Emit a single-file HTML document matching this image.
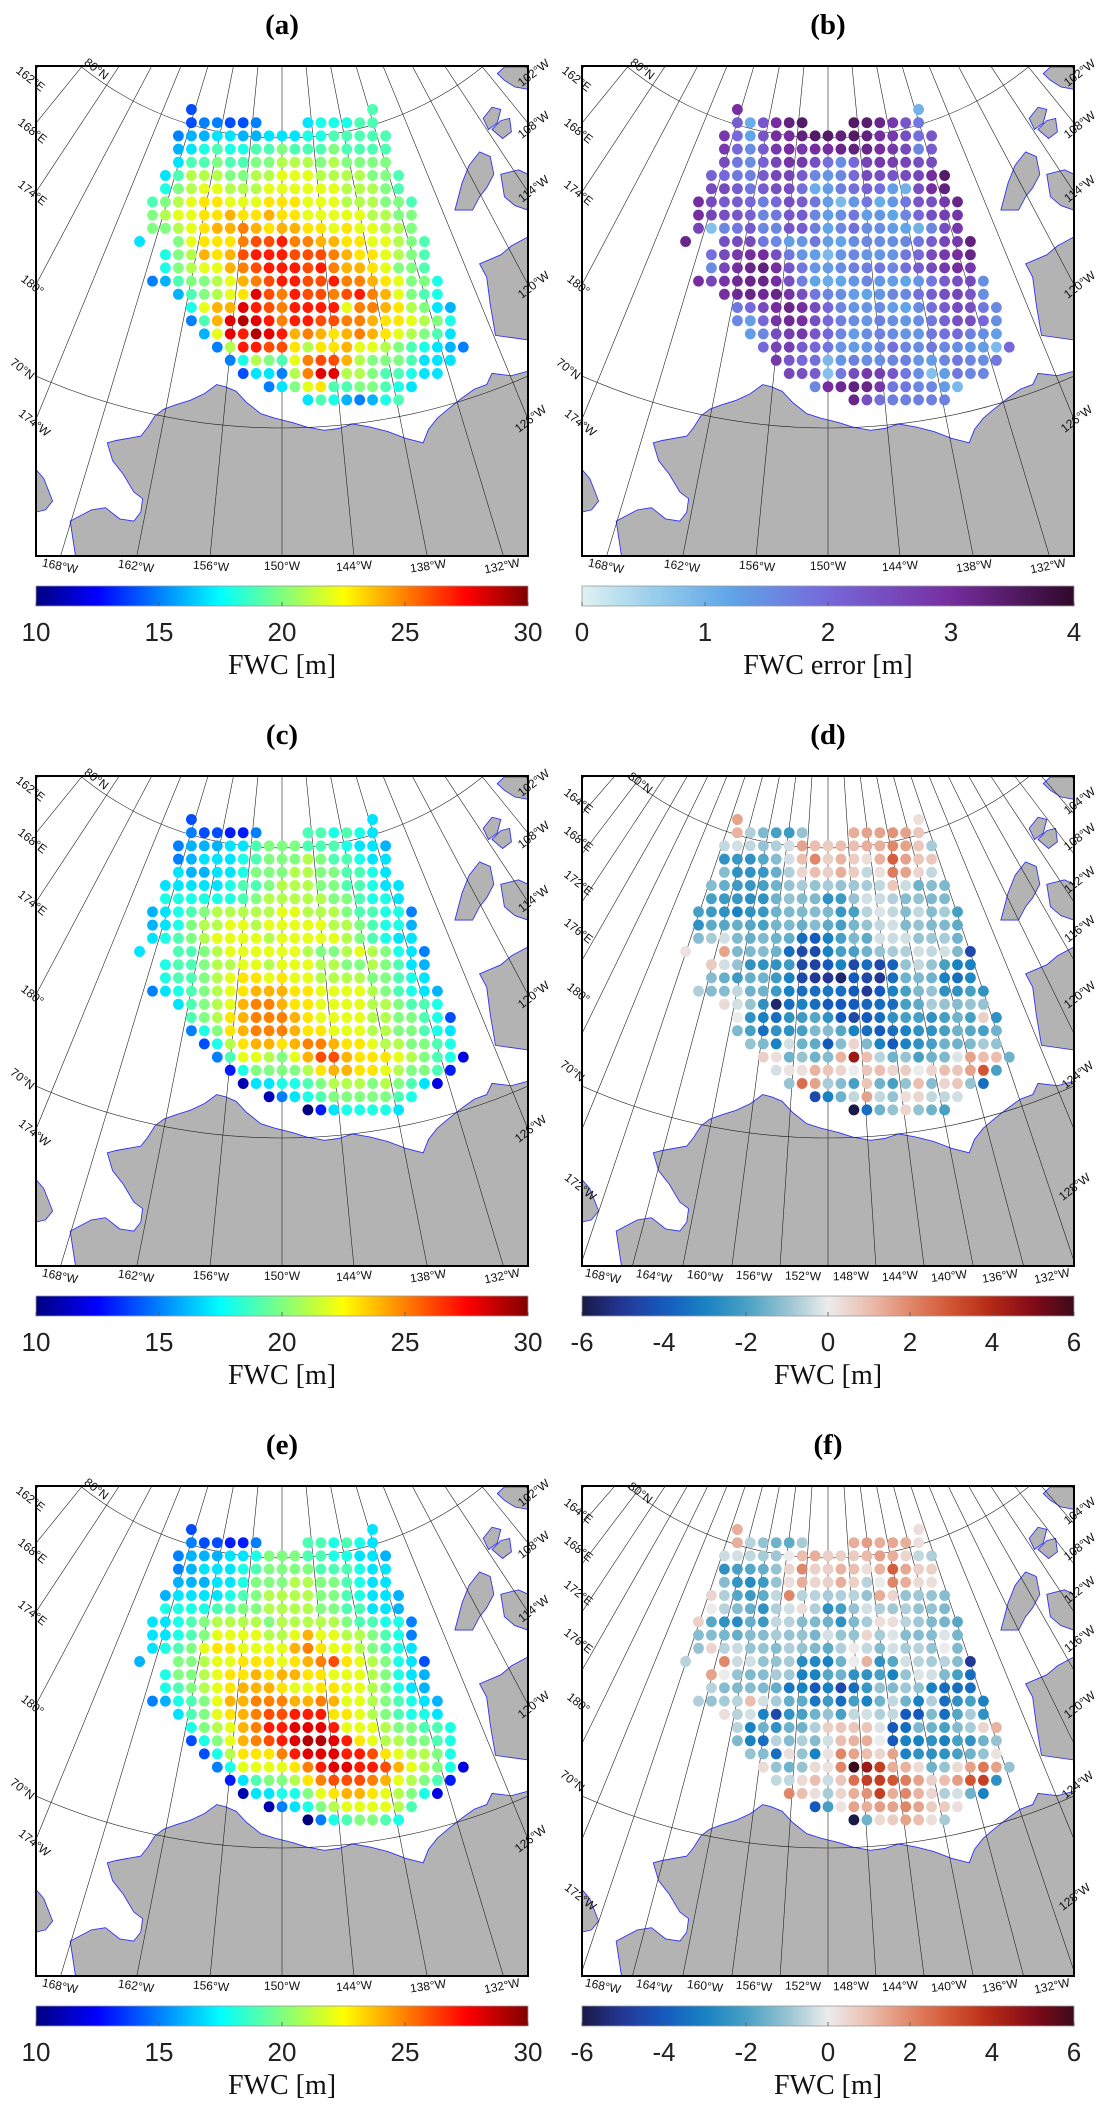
<!DOCTYPE html>
<html><head><meta charset="utf-8">
<style>
html,body{margin:0;padding:0;background:#fff;overflow:hidden;width:1099px;height:2109px;}
svg{display:block;overflow:hidden;}
.tk{font-family:"Liberation Sans",sans-serif;font-size:12px;fill:#111;}
.cb{font-family:"Liberation Sans",sans-serif;font-size:26px;fill:#222;}
.ttl{font-family:"Liberation Serif",serif;font-size:29px;font-weight:bold;fill:#000;}
.lab{font-family:"Liberation Serif",serif;font-size:28px;fill:#111;}
</style></head>
<body>
<svg id="fig" width="1099" height="2109" viewBox="0 0 1099 2109" xmlns="http://www.w3.org/2000/svg"></svg>
<script>
const N = null;
const colStart = [-7,-7,-8,-8,-8,-9,-9,-10,-10,-10,-11,-9,-9,-10,-8,-7,-7,-6,-5,-4,-3,-1,2];

const fwcA = [
[14,N,N,N,N,N,N,N,N,N,N,N,N,N,19],
[14,15,15,14,14,15,N,N,N,17,18,18,18,19,19],
[15,16,16,17,17,16,16,17,17,17,18,18,19,19,19,19,19],
[16,17,18,19,18,18,19,19,20,19,19,19,20,19,19,19,19],
[17,19,19,20,19,19,20,20,21,21,21,20,21,20,20,20,20],
[17,19,21,21,21,20,20,21,21,22,22,22,21,21,21,21,20,20,19],
[18,20,21,22,22,21,21,21,22,22,22,22,22,22,21,21,21,20,19],
[19,20,21,22,23,23,22,22,22,23,23,23,22,22,22,21,21,21,20,20,19],
[20,21,22,22,23,23,24,23,23,24,23,23,22,22,22,22,22,21,21,20,20],
[20,20,21,22,23,24,24,25,24,23,24,24,23,23,22,23,22,22,21,21,20],
[17,N,N,20,22,23,23,23,25,26,26,27,25,25,24,24,23,23,22,22,21,20,19],
[18,20,21,24,23,24,26,27,27,27,26,26,26,25,24,23,23,22,21,20,19],
[18,20,21,22,22,24,25,26,27,27,27,26,27,25,24,24,23,22,20,20,19],
[15,16,19,20,20,21,22,24,25,26,27,27,26,26,27,25,25,24,23,22,20,20,18],
[16,19,20,21,22,23,28,26,25,27,26,26,25,26,27,25,24,22,20,19,18],
[18,22,24,24,28,27,26,25,27,27,27,27,22,25,25,24,23,21,20,17,16],
[15,19,24,28,29,28,27,25,27,27,26,26,25,25,24,23,23,22,21,20,18],
[16,22,28,27,29,28,27,24,25,24,23,24,25,24,23,22,21,20,19,17],
[15,21,27,27,26,26,23,21,23,23,24,22,22,21,20,19,18,17,16,15],
[15,18,21,20,19,22,25,26,26,24,21,20,20,20,19,17,17,17],
[14,17,17,15,21,25,28,28,21,21,20,19,19,18,17,17],
[15,17,20,22,23,19,19,20,20,19,18,17],
[17,19,18,16,15,16,18,19]];

const errB = [
[3.0,N,N,N,N,N,N,N,N,N,N,N,N,N,1.0],
[2.2,1.1,2.3,3.0,3.3,3.5,N,N,N,3.5,3.4,3.2,2.8,2.3,1.8],
[2.8,2.0,1.2,2.3,3.0,3.0,3.3,3.5,3.5,3.3,3.5,3.3,3.0,2.8,2.4,1.9,2.3],
[2.8,2.0,1.5,2.2,2.8,3.0,2.8,3.0,3.0,3.2,3.3,3.2,3.0,2.8,2.5,1.6,2.2],
[2.5,1.8,1.5,2.1,2.6,2.9,2.8,2.4,1.9,1.5,2.0,2.6,2.8,2.7,2.6,2.4,2.5],
[2.1,2.0,1.8,1.7,2.2,2.6,2.6,2.2,1.6,1.4,1.6,2.0,2.5,2.4,2.3,2.5,2.6,3.0,3.5],
[2.5,2.5,2.2,1.8,2.2,2.4,2.4,1.9,1.1,1.3,1.7,1.9,2.1,1.9,1.3,1.0,2.4,3.0,3.3],
[3.0,2.5,2.2,2.2,2.0,1.7,2.0,2.4,2.2,1.8,1.3,0.9,1.4,1.8,1.1,1.4,1.8,2.3,2.4,2.8,3.2],
[3.0,2.6,2.4,2.3,2.1,1.6,1.8,2.3,2.2,1.6,1.3,1.5,1.8,1.3,1.4,1.2,1.6,2.0,2.4,2.7,2.9],
[2.6,0.8,1.6,1.8,2.2,1.6,1.6,2.3,2.2,1.7,1.2,1.6,1.9,1.5,1.5,1.3,1.2,1.0,1.6,2.4,2.8],
[3.2,N,N,2.4,2.5,2.5,1.8,1.6,1.3,1.4,1.8,1.3,1.2,1.5,1.6,1.5,1.5,1.6,1.8,2.2,2.6,2.8,3.3],
[1.9,2.5,2.8,3.0,3.0,2.4,1.8,1.4,1.3,0.9,1.4,1.6,1.4,1.4,1.4,1.8,2.0,2.5,2.8,3.0,3.2],
[1.5,2.6,3.0,3.2,3.3,3.0,2.3,1.8,1.4,1.3,1.5,1.7,1.7,1.8,1.6,1.9,2.2,2.5,2.8,3.0,2.8],
[3.0,2.6,2.9,3.1,3.2,3.2,3.0,2.4,1.7,1.2,1.1,1.2,1.4,1.6,1.4,1.3,1.2,1.4,1.8,2.2,2.4,2.5,1.5],
[3.0,3.1,3.2,3.1,3.2,2.9,2.4,1.8,1.6,1.5,1.3,1.2,1.4,1.6,1.6,1.9,2.2,2.4,2.6,2.3,1.5],
[1.8,2.0,2.5,3.0,3.2,3.0,2.5,2.0,1.6,1.4,1.4,1.5,1.3,1.2,1.5,1.9,2.2,2.5,2.4,1.8,1.6],
[1.6,1.3,2.0,2.9,3.1,3.0,2.4,2.0,1.7,1.5,1.4,1.7,1.5,1.4,1.5,1.8,2.1,2.4,2.4,2.0,1.5],
[1.3,1.6,2.5,2.7,2.8,2.3,2.0,1.6,1.3,1.5,1.7,1.5,1.4,1.4,1.8,1.9,2.0,1.7,1.5,1.3],
[2.0,2.6,2.7,2.2,2.0,1.8,1.4,1.3,1.4,1.6,1.9,1.6,1.5,1.8,1.6,1.5,1.4,1.3,0.9,2.0],
[2.8,2.3,2.0,1.9,0.9,1.4,1.7,1.5,1.5,1.6,1.7,1.4,1.3,1.6,1.8,1.6,1.5,1.8],
[2.6,2.4,2.2,0.8,1.8,2.5,2.8,2.7,2.3,1.8,1.5,0.8,1.3,1.8,1.6,1.6],
[1.6,3.0,3.1,3.3,3.2,2.8,1.8,1.8,1.6,1.6,1.3,0.9],
[3.2,2.4,1.9,1.7,1.7,1.7,1.7,1.7]];

const fwcC = [
[14,N,N,N,N,N,N,N,N,N,N,N,N,N,17],
[15,14,14,13,13,15,N,N,N,19,19,18,19,18,17],
[15,16,16,16,17,17,19,20,20,20,19,19,19,18,17,17,16],
[15,16,17,17,17,18,19,20,20,20,21,20,19,19,18,17,17],
[17,16,16,17,17,18,20,20,20,21,21,20,20,19,19,18,17],
[17,17,17,17,17,18,19,19,20,21,21,21,20,20,19,19,18,17,17],
[18,18,18,18,18,18,19,20,21,21,21,21,21,20,20,19,18,18,17],
[16,17,18,19,20,21,21,21,21,21,22,22,21,21,21,20,19,19,18,18,15],
[16,17,18,20,21,21,22,22,21,22,22,22,22,22,21,21,20,19,18,18,16],
[17,18,19,20,21,22,22,22,22,21,22,22,22,22,22,21,20,19,18,17,17],
[17,N,N,19,19,20,21,22,22,22,22,22,22,21,20,20,21,22,21,20,18,17,15],
[18,19,19,20,21,21,22,22,21,22,22,22,21,21,20,20,21,20,19,17,16],
[18,19,19,20,21,22,23,23,22,23,22,22,21,21,21,21,20,20,19,18,17],
[15,17,18,19,20,21,22,23,24,24,24,23,23,22,22,22,22,21,20,19,18,17,16],
[17,19,20,21,22,24,25,25,24,23,23,22,22,22,22,21,21,20,19,19,18],
[19,20,21,23,24,25,25,25,24,23,22,22,22,22,21,21,20,20,19,18,14],
[15,18,20,23,24,25,25,25,24,23,23,22,22,22,21,21,20,20,19,18,17],
[14,18,21,23,24,24,23,24,25,25,24,23,23,22,21,21,20,20,19,18],
[15,19,22,22,21,20,22,24,26,26,24,23,23,23,22,21,20,19,18,12],
[13,18,20,20,20,20,21,23,24,24,23,23,22,21,20,20,19,13],
[11,17,17,18,18,19,20,21,21,21,20,21,20,19,17,12],
[11,15,17,18,19,20,20,20,20,20,19,18],
[10,13,17,18,18,18,18,17]];

const diffD = [
[1.5,N,N,N,N,N,N,N,N,N,N,N,N,N,0.3],
[1.2,-0.7,-1.3,-2.0,-2.2,-1.0,N,N,N,1.3,1.5,1.5,1.8,1.5,0.8],
[-0.5,-0.3,-0.5,-1.0,-0.7,-0.3,1.5,1.0,0.7,1.0,1.0,1.3,1.3,2.0,1.5,0.8,-0.8],
[-2.5,-2.3,-2.5,-1.8,-1.2,-0.3,1.0,2.0,0.6,1.2,0.7,0.3,1.2,2.8,1.5,0.8,0.8],
[-1.2,-2.5,-2.5,-2.3,-1.6,-0.7,0.5,1.0,0.6,1.3,0.7,-0.5,0.3,2.2,1.5,0.5,-0.5],
[-1.2,-1.6,-2.2,-2.3,-2.0,-1.5,-1.0,-0.8,-1.0,-0.8,-1.0,-0.9,-0.8,-0.5,0.8,-0.4,-1.5,-1.2,-1.3],
[-2.0,-2.2,-2.3,-2.6,-2.5,-1.5,-1.0,-1.2,-1.3,-2.5,-2.2,-1.0,-0.3,-0.4,-0.7,-1.2,-1.0,-1.3,-1.3],
[-2.0,-2.2,-2.5,-3.0,-2.5,-2.3,-1.5,-1.3,-1.3,-1.2,-1.3,-2.3,-2.0,-0.6,-0.2,-0.5,-1.2,-0.5,-1.2,-0.8,-2.0],
[-2.5,-1.7,-1.8,-1.6,-1.8,-2.0,-1.4,-1.3,-1.6,-1.2,-1.7,-2.0,-1.4,-1.0,-0.5,-0.3,-1.3,-1.0,-1.3,-1.3,-1.7],
[-1.2,-0.8,-0.3,-1.3,-1.6,-1.3,-1.5,-1.6,-3.5,-4.0,-3.0,-2.0,-1.3,-1.7,-0.3,-0.4,-0.3,-1.0,-0.9,-0.8,-1.5],
[0.2,N,N,1.5,-1.3,-1.3,-1.2,-1.5,-3.5,-4.5,-4.5,-3.0,-2.0,-2.0,-1.5,-1.0,-0.8,-0.7,-0.3,-0.5,-0.3,-1.3,-4.5],
[0.7,-0.3,-1.0,-2.5,-2.5,-2.5,-2.2,-4.5,-4.7,-4.0,-3.0,-4.5,-3.5,-4.5,-3.8,-1.0,-0.5,-1.0,-2.0,-3.0,-3.0],
[-1.2,-1.6,-2.2,-1.6,-1.5,-2.2,-3.0,-4.5,-5.0,-5.0,-5.5,-4.0,-4.5,-5.0,-3.5,-1.5,-1.3,-1.5,-3.0,-3.5,-2.8],
[-0.7,-1.2,-1.2,-0.5,-1.5,-1.5,-2.2,-3.0,-3.5,-3.5,-3.3,-3.5,-4.0,-5.0,-4.0,-3.0,-2.0,-1.3,-1.0,-2.5,-2.5,-2.0,-2.5],
[0.4,-0.3,-1.0,-2.5,-5.5,-3.5,-3.0,-3.5,-4.0,-4.0,-4.0,-3.7,-3.5,-3.5,-2.0,-1.7,-0.8,-1.0,-1.2,-1.0,-1.0],
[0.0,-2.5,-3.0,-3.5,-2.5,-2.2,-1.8,-2.5,-4.0,-4.5,-4.0,-3.5,-2.5,-2.0,-2.0,-2.5,-2.0,-1.5,-2.0,0.6,-2.5],
[-1.3,-2.0,-3.5,-2.5,-2.5,-2.0,-1.3,-1.2,-1.8,-3.0,-3.5,-4.0,-3.5,-3.0,-2.5,-2.5,-2.0,-1.5,-1.8,-2.0,-1.5],
[-1.0,-1.3,-3.0,-0.3,-1.5,-1.7,-4.0,-1.2,0.5,-1.3,-3.0,-4.0,-3.0,-2.5,-2.0,-1.5,-1.5,-1.3,-0.8,-1.0],
[0.6,0.3,-1.5,-1.0,-1.5,-1.2,1.2,4.5,1.0,-0.6,-1.5,-1.0,-2.0,-1.5,-1.3,-0.2,1.5,1.0,1.0,-1.5],
[-0.3,0.2,0.3,1.2,0.8,0.5,0.0,0.8,1.0,0.5,0.7,0.0,0.5,1.0,0.8,1.5,3.0,-2.0],
[-1.0,2.5,1.5,-0.8,-1.2,-2.0,0.8,-1.5,-2.0,-1.0,1.0,-1.2,0.5,0.8,-1.0,-3.5],
[-4.5,-3.0,-1.5,-0.5,1.5,-0.5,-1.0,0.3,0.5,-0.5,-0.5,-0.3],
[-6.0,-3.5,-1.5,-1.0,0.5,-1.0,-1.5,-2.0]];

const fwcE = [
[14,N,N,N,N,N,N,N,N,N,N,N,N,N,17],
[15,14,14,13,13,15,N,N,N,19,19,18,19,18,17],
[15,16,16,16,17,17,18,20,20,20,19,19,18,18,17,17,16],
[15,16,17,17,17,18,19,20,20,20,20,19,19,19,18,17,17],
[16,16,16,17,17,18,20,20,20,21,21,20,20,19,18,17,17],
[16,17,17,17,17,18,19,20,21,21,21,21,20,20,19,18,17,17,16],
[18,18,18,18,19,19,20,20,21,21,21,21,20,20,19,19,17,17,16],
[17,17,18,19,20,21,21,21,21,20,21,21,21,21,21,20,19,19,18,18,15],
[17,17,18,19,20,22,22,22,22,21,21,22,24,22,22,21,21,20,19,18,15],
[17,18,19,20,22,23,23,22,22,22,22,24,25,23,22,22,21,20,19,18,17],
[16,N,N,20,20,21,22,22,23,23,23,22,23,24,25,26,23,22,21,20,18,17,14],
[18,20,20,21,22,23,23,24,23,24,24,23,23,22,22,22,21,20,18,17,16],
[18,19,20,21,22,23,24,24,24,23,22,22,23,23,22,22,21,20,18,17,16],
[15,16,18,19,20,22,24,24,25,25,25,24,24,25,24,22,22,21,20,19,18,17,16],
[17,19,20,22,23,24,25,26,26,27,27,27,23,23,22,21,20,19,18,18,17],
[18,20,21,22,24,25,27,27,28,28,28,27,22,22,22,21,20,20,19,19,18],
[14,18,20,22,24,25,26,27,28,29,29,28,27,23,22,21,21,20,20,19,18],
[14,18,21,23,23,23,25,27,28,28,28,27,27,26,23,22,21,21,20,18],
[15,18,22,22,22,22,23,25,27,28,28,27,27,26,24,22,21,20,18,12],
[13,17,19,20,20,21,23,25,26,26,26,25,24,22,21,20,19,13],
[11,17,17,18,18,20,22,23,24,24,23,22,21,20,18,12],
[11,15,17,18,20,21,22,22,22,22,21,19],
[10,15,18,19,20,20,19,18]];

const diffF = [
[1.3,N,N,N,N,N,N,N,N,N,N,N,N,N,0.3],
[1.3,-0.6,-1.0,-1.5,-1.7,-0.8,N,N,N,1.3,1.6,1.3,1.4,1.3,0.3],
[-0.4,-0.3,-0.5,-0.8,-0.9,0.0,1.0,1.3,0.6,0.6,0.7,1.1,1.6,1.3,0.5,-0.5,-0.7],
[-2.5,-2.0,-1.8,-1.6,-1.0,0.5,2.0,0.6,0.6,1.2,1.0,0.3,1.2,2.8,1.4,0.6,0.6],
[-1.2,-2.4,-2.7,-2.2,-1.0,0.3,1.3,0.5,0.6,1.3,0.6,-0.6,0.0,2.0,1.3,0.4,0.3],
[0.5,-0.7,-1.8,-2.2,-1.7,-0.5,2.0,-0.6,-0.6,-0.8,-0.7,-0.6,-1.0,1.3,0.5,-1.0,-0.9,-1.0,-1.2],
[0.0,-0.6,-1.2,-1.6,-2.5,-0.7,-0.3,0.3,-0.7,-2.5,-2.0,-1.0,-0.3,-0.7,-0.9,-0.7,-1.0,-1.0,-1.3],
[0.6,-1.8,-2.5,-2.7,-1.6,-2.2,-0.5,-0.6,-1.2,-1.3,-1.5,-2.5,-1.3,-0.8,0.3,0.3,-0.6,-0.9,-1.3,-1.4,-1.8],
[-1.2,-1.2,-1.4,-1.6,-1.2,-1.2,-0.8,-1.0,-1.0,-1.4,-0.3,-1.0,-1.0,0.5,-0.8,-0.2,-1.2,-1.2,-1.2,-0.2,-1.4],
[-1.0,0.5,-0.6,-0.4,-1.0,-1.0,-1.2,-0.7,-1.0,-1.3,-1.7,-0.7,0.0,-0.5,-1.2,-0.3,-0.8,-0.6,-1.0,0.0,-1.3],
[-0.6,N,N,2.0,-0.4,-0.3,-1.0,-1.0,-0.8,-2.7,-2.8,-3.0,-1.5,0.0,1.2,-2.5,-1.8,-0.3,-0.6,-0.8,-0.6,-1.2,-5.0],
[1.5,0.0,-1.0,-1.3,-1.2,-0.8,-0.9,-3.0,-3.0,-1.8,-1.5,-2.5,-2.5,-2.0,-3.0,-1.0,-0.2,-0.3,-1.3,-2.0,-3.5],
[-0.6,-1.2,-1.3,-1.2,-1.3,-1.6,-3.3,-3.0,-4.0,-3.0,-4.5,-3.5,-2.3,-1.0,-1.3,-0.9,-1.0,-3.0,-3.5,-3.5,-3.5],
[-0.7,-1.0,-0.8,-0.6,1.0,-0.3,-0.8,-1.6,-1.7,-3.3,-2.2,-3.5,-2.0,-3.0,-1.5,-0.5,-1.5,-3.0,-0.7,-3.5,-2.5,-2.0,-3.0],
[0.3,-0.6,-0.3,-3.0,-4.5,-2.5,-2.0,-1.5,-1.0,-2.0,-0.5,-0.3,-0.7,-0.5,-4.0,-4.0,-1.3,-3.5,-1.8,-0.8,-2.5],
[-0.6,-3.0,-1.5,-2.5,-1.5,-1.5,-0.7,0.6,0.8,0.8,0.8,-0.2,-4.0,-3.5,-1.3,-1.5,-2.0,-1.2,-0.8,0.5,1.2],
[-1.3,-3.0,-3.5,-0.6,-1.2,-0.7,-1.2,-0.3,1.0,1.2,1.3,0.0,-4.0,-3.0,-3.0,-2.5,-3.0,-2.0,-2.5,-1.5,-1.0],
[-1.0,-1.2,-3.5,0.3,-1.0,-3.0,0.2,2.0,1.5,1.0,0.5,1.5,-3.0,-2.5,-2.5,-2.5,-2.0,-1.5,-1.0,0.2],
[0.4,-1.0,-1.5,-1.0,0.4,0.2,2.0,6.0,4.5,3.5,1.3,1.2,0.4,-1.5,-1.0,0.4,1.5,2.3,1.5,-1.0],
[-0.5,-0.5,0.4,1.0,-0.4,0.8,2.5,3.5,3.5,3.0,2.2,1.5,0.6,1.0,1.6,3.0,3.5,-2.5],
[2.0,1.0,0.3,-0.8,0.5,1.3,1.8,3.5,1.3,2.0,1.2,0.5,-0.7,-0.3,-1.5,-3.0],
[-4.0,-2.0,0.2,1.5,1.3,1.6,1.5,2.0,1.5,0.7,0.7,0.3],
[-6.0,-1.5,0.4,0.7,1.5,1.0,0.3,-0.8]];

const jetTicks = ["10","15","20","25","30"];
const errTicks = ["0","1","2","3","4"];
const divTicks = ["-6","-4","-2","0","2","4","6"];
const lonA = ["168°W","162°W","156°W","150°W","144°W","138°W","132°W"];
const lonD = ["168°W","164°W","160°W","156°W","152°W","148°W","144°W","140°W","136°W","132°W"];

const NS = "http://www.w3.org/2000/svg";
const fig = document.getElementById('fig');
function el(tag, attrs, parent){const e=document.createElementNS(NS,tag);for(const k in attrs)e.setAttribute(k,attrs[k]);(parent||fig).appendChild(e);return e;}

function clamp(v){return Math.max(0,Math.min(1,v));}
function jet(v){const t=clamp((v-10)/20);return [clamp(1.5-Math.abs(4*t-3)),clamp(1.5-Math.abs(4*t-2)),clamp(1.5-Math.abs(4*t-1))].map(x=>Math.round(x*255));}
function interp(stops,v){
  if(v<=stops[0][0])return stops[0][1];
  for(let i=1;i<stops.length;i++){if(v<=stops[i][0]){const a=stops[i-1],b=stops[i];const t=(v-a[0])/(b[0]-a[0]);return a[1].map((x,j)=>Math.round(x+(b[1][j]-x)*t));}}
  return stops[stops.length-1][1];
}
const errStops=[[0,[222,242,242]],[0.6,[150,205,235]],[1.2,[95,165,232]],[2,[118,104,218]],[3,[118,45,160]],[4,[48,8,42]]];
const divStops=[[-6,[25,25,70]],[-5,[35,55,150]],[-4,[20,90,190]],[-3,[25,130,195]],[-2,[70,160,195]],[-1,[150,195,210]],[0,[236,236,236]],[1,[235,190,175]],[2,[225,135,105]],[3,[210,85,50]],[4,[180,40,20]],[5,[130,10,25]],[6,[60,10,25]]];
function rgb(a){return `rgb(${a[0]},${a[1]},${a[2]})`;}

const MW=492, MH=490, PX=246, PY=-246;
function lonAngle(lon){return (lon+150)*0.93*Math.PI/180;}
function radius(lat){return 318+(80-lat)*29;}

const landPolys=[
[[215,1243],[200,1165],[260,1140],[300,1135],[340,1160],[380,1165],[400,1145],[405,1115],[380,1100],[350,1060],[320,1030],[305,990],[330,985],[400,975],[420,955],[440,930],[465,915],[500,905],[540,895],[580,880],[615,860],[640,865],[670,875],[700,900],[740,925],[780,935],[830,945],[870,955],[920,962],[960,958],[1000,948],[1050,955],[1100,965],[1150,980],[1200,990],[1215,960],[1240,935],[1270,915],[1310,890],[1345,870],[1380,860],[1395,835],[1450,840],[1497,830],[1497,1243]],
[[103,1050],[125,1070],[150,1120],[130,1140],[103,1145]],
[[1497,530],[1450,550],[1420,570],[1360,590],[1380,620],[1390,680],[1405,750],[1497,760]],
[[1290,470],[1310,410],[1330,370],[1360,340],[1390,350],[1400,390],[1380,420],[1360,440],[1340,470]],
[[1420,390],[1470,380],[1497,390],[1497,470],[1460,460],[1430,440]],
[[1370,265],[1395,240],[1420,245],[1410,275],[1385,290]],
[[1395,290],[1420,270],[1445,265],[1450,295],[1425,310]],
[[1410,165],[1430,150],[1497,150],[1497,200],[1460,195],[1430,180]]];
function L(p){return [(p[0]-103)*MW/1394,(p[1]-148)*MH/1095];}

function drawPanel(ox,oy,key,title,data,colorFn,lonStep,lonLabels,lonPos,leftLabs,rightLabs,ticks,unit,gradFn,vmin,vmax){
  const g=el('g',{transform:`translate(${ox},${oy})`});
  
  
  const t=el('text',{x:MW/2,y:-32,'text-anchor':'middle',class:'ttl'},g);
  t.textContent=title;
  
  
  const cp=el('clipPath',{id:'clip'+key},g);
  el('rect',{x:0,y:0,width:MW,height:MH},cp);
  const m=el('g',{'clip-path':`url(#clip${key})`},g);
  
  
  el('rect',{x:0,y:0,width:MW,height:MH,fill:'#fff'},m);
  landPolys.forEach((poly,i)=>{
    const p=el('polygon',{points:poly.map(q=>L(q).map(v=>v.toFixed(1)).join(',')).join(' '),fill:'#b3b3b3',stroke:'#3333ee','stroke-width':0.9},m);
    
    
  });
  for(let lon=-150-72;lon<=-150+72;lon+=lonStep){
    const a=lonAngle(lon);
    const s=Math.abs(Math.sin(a)), c=Math.cos(a);
    let R=(MH-PY)/c;
    if(s>1e-6) R=Math.min(R,(PX)/s);
    const x2=PX+R*Math.sin(a), y2=PY+R*c;
    if(y2<0) continue;
    const ln=el('line',{x1:PX,y1:PY,x2:x2.toFixed(1),y2:y2.toFixed(1),stroke:'#222','stroke-width':0.6},m);
    
    
  }
  [70,80].forEach(lat=>{
    const r=radius(lat);const y=PY+Math.sqrt(r*r-PX*PX);
    const c=el('path',{d:`M0,${y.toFixed(1)} A${r},${r} 0 0 0 ${MW},${y.toFixed(1)}`,fill:'none',stroke:'#222','stroke-width':0.6},m);
    
    
  });
  const dx=12.95, dy=13.2, y0=43.5, cx0=246;
  data.forEach((row,r)=>{
    row.forEach((v,i)=>{
      if(v===null)return;
      const c=colStart[r]+i;
      const d=el('ellipse',{cx:(cx0+c*dx).toFixed(1),cy:(y0+r*dy).toFixed(1),rx:5.4,ry:5.5,fill:rgb(colorFn(v))},m);
      
      
    });
  });
  const fr=el('rect',{x:0,y:0,width:MW,height:MH,fill:'none',stroke:'#000','stroke-width':2},g);
  
  
  lonLabels.forEach((s,i)=>{
    const x=lonPos[i];const ang=Math.atan2(x-PX,MH-PY)*180/Math.PI;
    const tx=el('text',{x:x,y:MH+14,'text-anchor':'middle',class:'tk',transform:`rotate(${(-ang*0.7).toFixed(1)},${x},${MH+10})`},g);
    tx.textContent=s;
    
    
  });
  leftLabs.forEach(l=>{
    const tx=el('text',{x:l[1],y:l[2],'text-anchor':'middle',class:'tk',transform:`rotate(38,${l[1]},${l[2]})`},g);
    tx.textContent=l[0];
    
    
  });
  rightLabs.forEach(l=>{
    const tx=el('text',{x:l[1],y:l[2],'text-anchor':'middle',class:'tk',transform:`rotate(-38,${l[1]},${l[2]})`},g);
    tx.textContent=l[0];
    
    
  });
  const gid='grad'+key;
  const lg=el('linearGradient',{id:gid,x1:0,x2:1,y1:0,y2:0},g);
  for(let k=0;k<=40;k++){const v=vmin+(vmax-vmin)*k/40;el('stop',{offset:(k/40).toFixed(3),'stop-color':rgb(gradFn(v))},lg);}
  const cby=MH+30;
  const cb=el('rect',{x:0,y:cby,width:MW,height:20,fill:`url(#${gid})`,stroke:'#999','stroke-width':0.8},g);
  
  
  ticks.forEach((s,i)=>{
    const x=MW*i/(ticks.length-1);
    el('line',{x1:x,y1:cby+16,x2:x,y2:cby+20,stroke:'#555','stroke-width':0.8},g);
    const tx=el('text',{x:x,y:cby+55,'text-anchor':'middle',class:'cb'},g);
    tx.textContent=s;
    
    
  });
  const ul=el('text',{x:MW/2,y:cby+88,'text-anchor':'middle',class:'lab'},g);
  ul.textContent=unit;
  
  
}

const posA=[24,100,175,246,318,392,466];
const posD=[21,72,123,172,221,269,318,367,418,470];
const leftA=[["80°N",58,6],["162°E",-8,16],["168°E",-6,68],["174°E",-6,130],["180°",-6,222],["70°N",-16,306],["174°W",-4,360]];
const rightA=[["102°W",500,10],["108°W",500,62],["114°W",500,126],["120°W",500,222],["126°W",497,356]];
const leftD=[["80°N",56,10],["164°E",-6,28],["168°E",-6,66],["172°E",-6,110],["176°E",-6,158],["180°",-6,220],["70°N",-12,298],["172°W",-4,414]];
const rightD=[["104°W",500,28],["108°W",500,64],["112°W",500,107],["116°W",500,156],["120°W",500,222],["124°W",498,302],["128°W",495,414]];

const LX=36, RX=582, rows=[66,776,1486];
drawPanel(LX,rows[0],'a','(a)',fwcA,jet,6,lonA,posA,leftA,rightA,jetTicks,'FWC [m]',jet,10,30);
drawPanel(RX,rows[0],'b','(b)',errB,v=>interp(errStops,v),6,lonA,posA,leftA,rightA,errTicks,'FWC error [m]',v=>interp(errStops,v),0,4);
drawPanel(LX,rows[1],'c','(c)',fwcC,jet,6,lonA,posA,leftA,rightA,jetTicks,'FWC [m]',jet,10,30);
drawPanel(RX,rows[1],'d','(d)',diffD,v=>interp(divStops,v),4,lonD,posD,leftD,rightD,divTicks,'FWC [m]',v=>interp(divStops,v),-6,6);
drawPanel(LX,rows[2],'e','(e)',fwcE,jet,6,lonA,posA,leftA,rightA,jetTicks,'FWC [m]',jet,10,30);
drawPanel(RX,rows[2],'f','(f)',diffF,v=>interp(divStops,v),4,lonD,posD,leftD,rightD,divTicks,'FWC [m]',v=>interp(divStops,v),-6,6);
</script>
</body></html>
